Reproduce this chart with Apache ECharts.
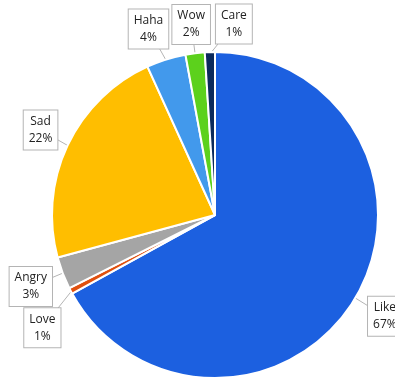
<!DOCTYPE html>
<html>
<head>
<meta charset="utf-8">
<script src="https://cdn.jsdelivr.net/npm/echarts@6/dist/echarts.min.js"></script>
<style>
  html, body { margin: 0; padding: 0; background: #fff; }
  #main { width: 395px; height: 379px; }
</style>
</head>
<body>
<div id="main"></div>
<script>
const categories = ["Like", "Love", "Angry", "Sad", "Haha", "Wow", "Care"];
const shares = [67.0, 0.6, 3.2, 22.4, 3.9, 1.9, 1.0];
const colors = ["#1c60e0", "#e0500f", "#a5a5a5", "#ffbe00", "#4299ec", "#5cd11c", "#0b2a5c"];

// callout placement (style only)
const center = [215, 215];
const radius = 163;
const calloutDist = 195;
const nudge = [[2, 2], [0, 22], [-2, 2], [2, -2], [-8, 0], [0, 3], [25, 4]];

const total = shares.reduce((a, b) => a + b, 0);
const midAngle = shares.map((v, i) => {
  const before = shares.slice(0, i).reduce((a, b) => a + b, 0);
  return (before + v / 2) / total * Math.PI * 2;
});

const chart = echarts.init(document.getElementById("main"));
chart.setOption({
  animation: false,
  series: [{
    type: "pie",
    center: center,
    radius: radius,
    startAngle: 90,
    clockwise: true,
    avoidLabelOverlap: false,
    itemStyle: { borderColor: "#fff", borderWidth: 2 },
    label: {
      show: true,
      position: "outside",
      formatter: p => p.name + "\n" + Math.round(p.value) + "%",
      fontFamily: "Open Sans",
      fontSize: 12,
      lineHeight: 17,
      color: "#222",
      align: "center",
      backgroundColor: "#fff",
      borderColor: "#b4b4b4",
      borderWidth: 1,
      padding: [3, 5, 2, 5]
    },
    labelLine: { show: true, length: 6, length2: 4, lineStyle: { color: "#b4b4b4", width: 1 } },
    labelLayout: function (p) {
      const i = p.dataIndex;
      const a = midAngle[i];
      const dx = Math.sin(a), dy = -Math.cos(a);
      const x = center[0] + dx * calloutDist + nudge[i][0];
      const y = center[1] + dy * calloutDist + nudge[i][1];
      return {
        x: x, y: y, align: "center", verticalAlign: "middle",
        labelLinePoints: [
          [center[0] + dx * (radius - 2), center[1] + dy * (radius - 2)],
          [(center[0] + dx * (radius - 2) + x) / 2, (center[1] + dy * (radius - 2) + y) / 2],
          [x, y]
        ]
      };
    },
    data: categories.map((c, i) => ({ name: c, value: shares[i], itemStyle: { color: colors[i] } }))
  }]
});
</script>
</body>
</html>
